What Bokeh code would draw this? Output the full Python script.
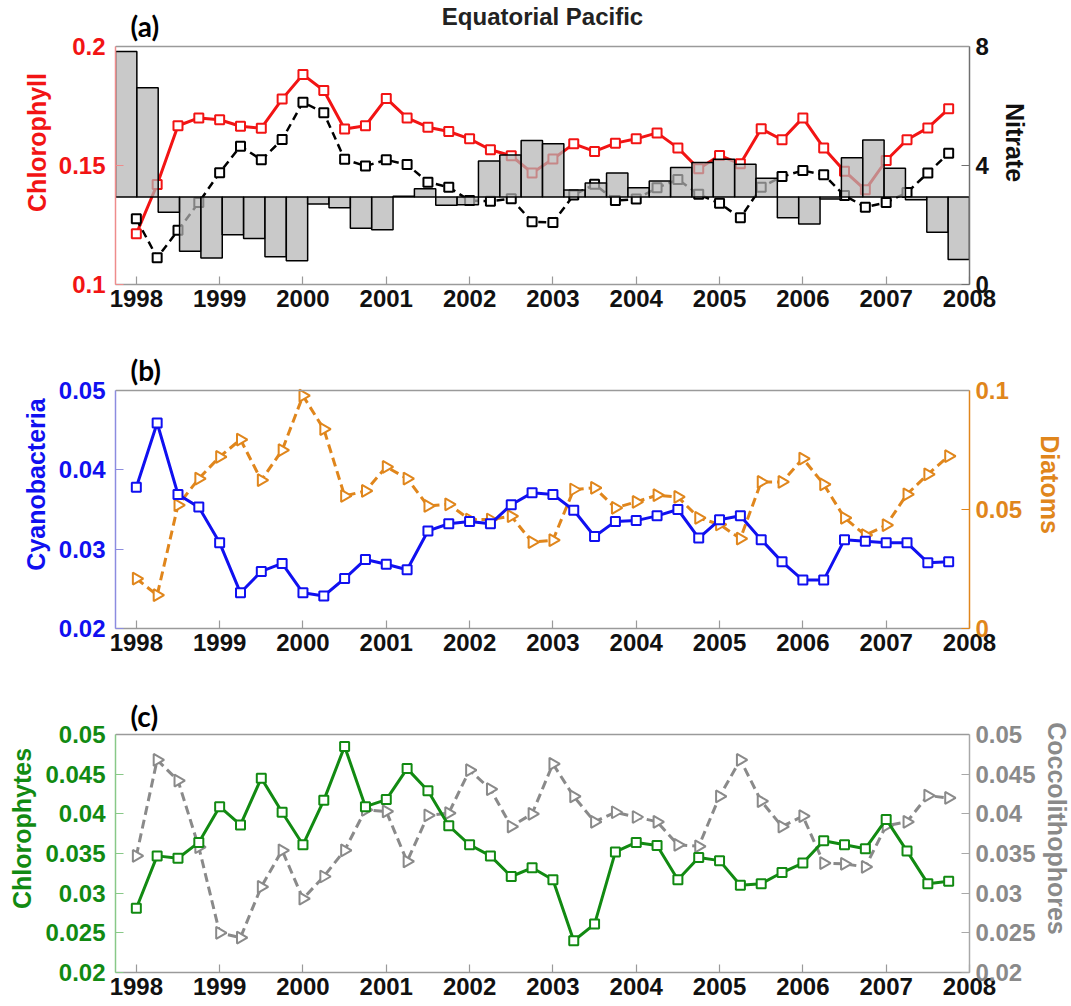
import math
from bokeh.plotting import figure
from bokeh.models import Range1d, LinearAxis, FixedTicker, Label, Span
from bokeh.layouts import column
from bokeh.embed import file_html
from bokeh.resources import INLINE

# ---------------- data ----------------
time = [1998.0, 1998.25, 1998.5, 1998.75, 1999.0, 1999.25, 1999.5, 1999.75,
        2000.0, 2000.25, 2000.5, 2000.75, 2001.0, 2001.25, 2001.5, 2001.75,
        2002.0, 2002.25, 2002.5, 2002.75, 2003.0, 2003.25, 2003.5, 2003.75,
        2004.0, 2004.25, 2004.5, 2004.75, 2005.0, 2005.25, 2005.5, 2005.75,
        2006.0, 2006.25, 2006.5, 2006.75, 2007.0, 2007.25, 2007.5, 2007.75]

chlorophyll = [0.1213, 0.1420, 0.1667, 0.1700, 0.1692, 0.1665, 0.1657, 0.1779,
               0.1882, 0.1815, 0.1653, 0.1667, 0.1782, 0.1700, 0.1661, 0.1643,
               0.1612, 0.1566, 0.1541, 0.1469, 0.1527, 0.1591, 0.1559, 0.1594,
               0.1612, 0.1637, 0.1574, 0.1486, 0.1542, 0.1507, 0.1654, 0.1608,
               0.1700, 0.1574, 0.1476, 0.1398, 0.1521, 0.1608, 0.1658, 0.1738]

nitrate_line = [2.21, 0.90, 1.82, 2.76, 3.76, 4.65, 4.19, 4.87,
                6.13, 5.77, 4.21, 3.98, 4.19, 4.03, 3.44, 3.27,
                2.82, 2.80, 2.88, 2.11, 2.08, 3.01, 3.37, 2.82,
                2.87, 3.25, 3.53, 3.03, 2.73, 2.24, 3.27, 3.63,
                3.83, 3.69, 2.99, 2.60, 2.76, 3.09, 3.75, 4.41]

bar_index = list(range(1, 41))
nitrate_bars = [7.83, 6.61, 2.43, 1.12, 0.89, 1.67, 1.55, 0.93,
                0.80, 2.71, 2.58, 1.89, 1.84, 2.97, 3.22, 2.66,
                2.68, 4.15, 4.35, 4.84, 4.73, 3.18, 3.41, 3.75,
                3.25, 3.48, 3.93, 4.10, 4.21, 4.04, 3.57, 2.24,
                2.03, 2.87, 4.26, 4.86, 3.91, 2.85, 1.76, 0.84]
nitrate_base = 2.94

cyanobacteria = [0.0378, 0.0459, 0.0369, 0.0353, 0.0308, 0.0245, 0.0272, 0.0282,
                 0.0245, 0.0241, 0.0263, 0.0287, 0.0281, 0.0274, 0.0323, 0.0332,
                 0.0335, 0.0332, 0.0356, 0.0371, 0.0369, 0.0349, 0.0316, 0.0335,
                 0.0336, 0.0342, 0.0350, 0.0314, 0.0337, 0.0342, 0.0312, 0.0284,
                 0.0261, 0.0261, 0.0312, 0.0310, 0.0308, 0.0308, 0.0283, 0.0284]

diatoms = [0.0210, 0.0140, 0.0518, 0.0630, 0.0721, 0.0794, 0.0623, 0.0749,
           0.0978, 0.0838, 0.0557, 0.0578, 0.0679, 0.0630, 0.0515, 0.0522,
           0.0458, 0.0458, 0.0472, 0.0363, 0.0371, 0.0584, 0.0591, 0.0507,
           0.0532, 0.0560, 0.0553, 0.0465, 0.0437, 0.0378, 0.0616, 0.0616,
           0.0714, 0.0606, 0.0465, 0.0392, 0.0434, 0.0564, 0.0648, 0.0724]

chlorophytes = [0.0281, 0.0347, 0.0344, 0.0364, 0.0409, 0.0386, 0.0445, 0.0402,
                0.0361, 0.0417, 0.0485, 0.0409, 0.0418, 0.0457, 0.0429, 0.0385,
                0.0361, 0.0347, 0.0321, 0.0332, 0.0317, 0.0240, 0.0261, 0.0352,
                0.0364, 0.0360, 0.0317, 0.0345, 0.0341, 0.0310, 0.0312, 0.0326,
                0.0338, 0.0366, 0.0361, 0.0356, 0.0393, 0.0353, 0.0312, 0.0315]

coccolithophores = [0.0347, 0.0468, 0.0442, 0.0358, 0.0250, 0.0244, 0.0308, 0.0354,
                    0.0293, 0.0321, 0.0354, 0.0405, 0.0403, 0.0340, 0.0398, 0.0401,
                    0.0455, 0.0431, 0.0384, 0.0400, 0.0463, 0.0422, 0.0390, 0.0402,
                    0.0396, 0.0390, 0.0361, 0.0359, 0.0422, 0.0468, 0.0416, 0.0384,
                    0.0397, 0.0338, 0.0337, 0.0333, 0.0385, 0.0390, 0.0423, 0.0420]

year_ticks = [1998, 1999, 2000, 2001, 2002, 2003, 2004, 2005, 2006, 2007, 2008]
year_labels = ["1998", "1999", "2000", "2001", "2002", "2003", "2004", "2005", "2006", "2007", "2008"]

chl_ticks = [0.1, 0.15, 0.2]
chl_labels = ["0.1", "0.15", "0.2"]
nit_ticks = [0, 4, 8]
nit_labels = ["0", "4", "8"]
cya_ticks = [0.02, 0.03, 0.04, 0.05]
cya_labels = ["0.02", "0.03", "0.04", "0.05"]
dia_ticks = [0, 0.05, 0.1]
dia_labels = ["0", "0.05", "0.1"]
c_ticks = [0.02, 0.025, 0.03, 0.035, 0.04, 0.045, 0.05]
c_labels = ["0.02", "0.025", "0.03", "0.035", "0.04", "0.045", "0.05"]

# ---------------- style ----------------
FONT = "Liberation Sans"
RED = "#f21414"
BLACK = "#000000"
BLUE = "#1010f0"
ORANGE = "#e0861c"
GREEN = "#128a12"
GRAY = "#8a8a8a"
FRAME = "#9a9a9a"
FW, FH = 854, 238          # size of the boxed plotting area


def style_axis(ax, color, line_color, standoff=10, label_standoff=10, size="24px"):
    ax.major_label_text_font = FONT
    ax.major_label_text_font_style = "bold"
    ax.major_label_text_font_size = size
    ax.major_label_text_color = color
    ax.axis_label_text_font = FONT
    ax.axis_label_text_font_style = "bold"
    ax.axis_label_text_font_size = "25px"
    ax.axis_label_text_color = color
    ax.axis_line_color = line_color
    ax.axis_line_width = 1.5
    ax.major_tick_line_color = line_color
    ax.major_tick_line_width = 1.2
    ax.major_tick_in = 8
    ax.major_tick_out = 0
    ax.minor_tick_line_color = None
    ax.major_label_standoff = standoff
    ax.axis_label_standoff = label_standoff


def extend(lo, hi, pad):
    # range whose [lo, hi] part fills FH px, with pad px of headroom above
    return Range1d(lo, hi + (hi - lo) * pad / FH)


class Panel:
    def __init__(self, pad, bottom_border):
        self.pad = pad
        p = figure(title=None, frame_width=FW, frame_height=FH + pad, x_range=Range1d(1997.75, 2008),
                   toolbar_location=None, output_backend="svg",
                   min_border_left=115, min_border_right=100,
                   min_border_top=0, min_border_bottom=bottom_border)
        p.grid.visible = False
        p.outline_line_color = None
        p.background_fill_color = "white"
        p.border_fill_color = "white"
        xa = p.xaxis[0]
        xa.ticker = FixedTicker(ticks=year_ticks)
        xa.major_label_overrides = dict(zip(year_ticks, year_labels))
        style_axis(xa, "#111111", FRAME, standoff=5, size="24px")
        self.p = p

    def left(self, lo, hi, ticks, labels, label, color, line_color, label_standoff):
        p = self.p
        p.y_range = extend(lo, hi, self.pad)
        ya = p.yaxis[0]
        ya.ticker = FixedTicker(ticks=ticks)
        ya.major_label_overrides = dict(zip(ticks, labels))
        ya.axis_label = label
        ya.bounds = (lo, hi)
        style_axis(ya, color, line_color, standoff=10, label_standoff=label_standoff)
        p.add_layout(Span(location=hi, dimension="width", line_color=FRAME, line_width=1.5))

    def right(self, name, lo, hi, ticks, labels, label, color, line_color, label_standoff):
        p = self.p
        p.extra_y_ranges = {name: extend(lo, hi, self.pad)}
        ax = LinearAxis(y_range_name=name, ticker=FixedTicker(ticks=ticks), axis_label=label)
        ax.major_label_overrides = dict(zip(ticks, labels))
        ax.bounds = (lo, hi)
        style_axis(ax, color, line_color, standoff=6, label_standoff=label_standoff)
        p.add_layout(ax, "right")

    def text(self, txt, x, below_top, font, size, align="left", color="black"):
        self.p.add_layout(Label(x=x, y=FH + self.pad - below_top, x_units="screen", y_units="screen",
                                text=txt, text_font=font, text_font_style="bold", text_font_size=size,
                                text_align=align, text_baseline="alphabetic", text_color=color))


# ---------------- panel (a) ----------------
A = Panel(46, 56)
A.left(0.1, 0.2, chl_ticks, chl_labels, "Chlorophyll", RED, "#ee8c8c", 5)
A.right("nitrate", 0, 8, nit_ticks, nit_labels, "Nitrate", "#111111", "#707070", 9)
pa = A.p
pa.extra_x_ranges = {"bars": Range1d(0.5, 40.5)}
pa.line(time, chlorophyll, line_color=RED, line_width=3)
pa.scatter(time, chlorophyll, marker="square", size=9, line_color=RED, line_width=2, fill_color="white")
pa.line(time, nitrate_line, y_range_name="nitrate", line_color=BLACK, line_width=2.5, line_dash="8 5")
pa.scatter(time, nitrate_line, y_range_name="nitrate", marker="square", size=9, line_color=BLACK,
           line_width=2, fill_color="white")
pa.vbar(x=bar_index, width=1, bottom=nitrate_base, top=nitrate_bars, x_range_name="bars",
        y_range_name="nitrate", fill_color="#b4b4b4", fill_alpha=0.72, line_color="black", line_width=1.5)
A.text("Equatorial Pacific", FW / 2, 16, FONT, "24px", align="center", color="#222222")
A.text("(a)", 15, 25, "Lato", "28px")

# ---------------- panel (b) ----------------
B = Panel(50, 56)
B.left(0.02, 0.05, cya_ticks, cya_labels, "Cyanobacteria", BLUE, "#8c8ce0", 6)
B.right("diatoms", 0, 0.1, dia_ticks, dia_labels, "Diatoms", ORANGE, ORANGE, 11)
pb = B.p
pb.line(time, diatoms, y_range_name="diatoms", line_color=ORANGE, line_width=3, line_dash="9 5")
pb.scatter(time, diatoms, y_range_name="diatoms", marker="triangle", angle=-math.pi / 2, size=12,
           line_color=ORANGE, line_width=2, fill_color="white")
pb.line(time, cyanobacteria, line_color=BLUE, line_width=3)
pb.scatter(time, cyanobacteria, marker="square", size=9, line_color=BLUE, line_width=2, fill_color="white")
B.text("(b)", 15, 29, "Lato", "28px")

# ---------------- panel (c) ----------------
C = Panel(50, 34)
C.left(0.02, 0.05, c_ticks, c_labels, "Chlorophytes", GREEN, "#88c888", 6)
C.right("cocco", 0.02, 0.05, c_ticks, c_labels, "Coccolithophores", GRAY, "#a8a8a8", 4)
pc = C.p
pc.line(time, coccolithophores, y_range_name="cocco", line_color=GRAY, line_width=3, line_dash="9 5")
pc.scatter(time, coccolithophores, y_range_name="cocco", marker="triangle", angle=-math.pi / 2, size=12,
           line_color=GRAY, line_width=2, fill_color="white")
pc.line(time, chlorophytes, line_color=GREEN, line_width=3)
pc.scatter(time, chlorophytes, marker="square", size=9, line_color=GREEN, line_width=2, fill_color="white")
C.text("(c)", 15, 31, "Lato", "28px")

layout = column(pa, pb, pc)
open("out.html", "w").write(file_html(layout, INLINE))
